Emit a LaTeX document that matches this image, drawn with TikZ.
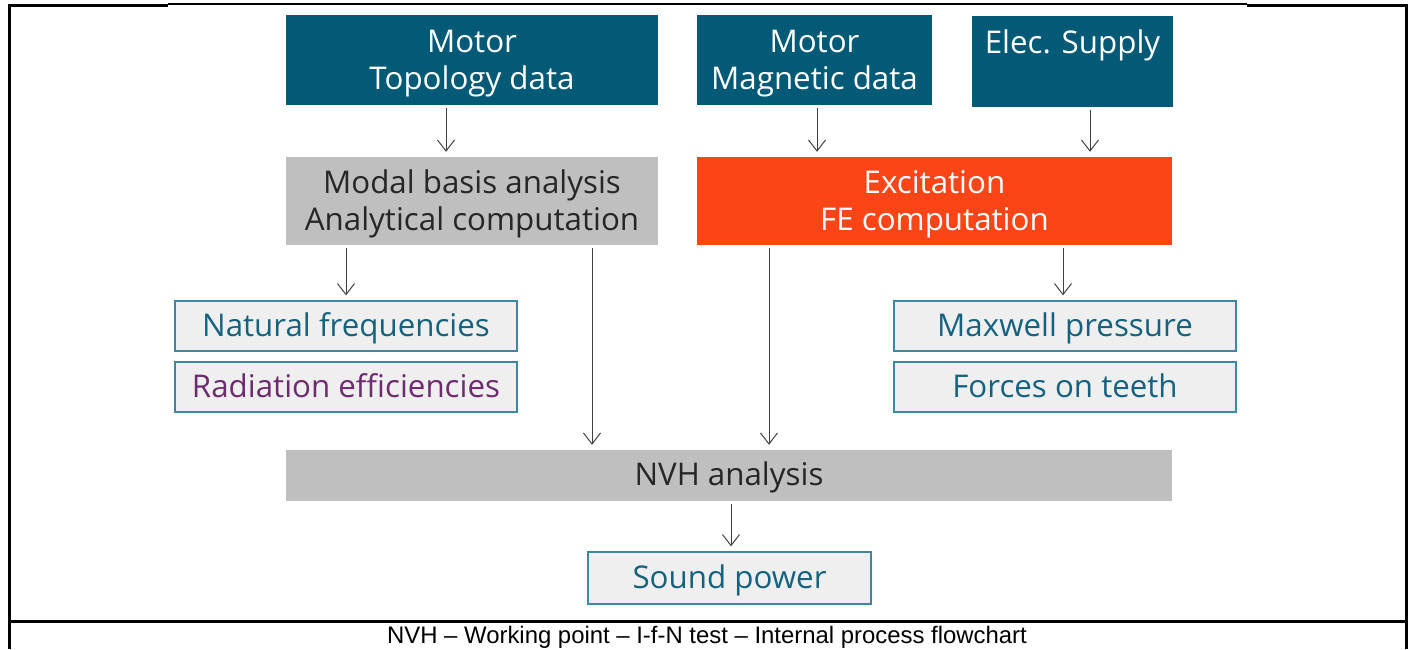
\documentclass[tikz,border=0pt]{standalone}
\usepackage{fontspec}
\setmainfont{Open Sans}
\newfontfamily\captionfont{Liberation Sans}
\usetikzlibrary{arrows.meta}

\definecolor{darkteal}{HTML}{025A77}
\definecolor{excitred}{HTML}{FC4516}
\definecolor{midgray}{HTML}{BFBFBF}
\definecolor{lightfill}{HTML}{EFEFEF}
\definecolor{boxedge}{HTML}{3F86A0}
\definecolor{tealtext}{HTML}{15627F}
\definecolor{purpletext}{HTML}{6E2B6F}

\tikzset{
  boxfont/.style={inner sep=0pt, align=center, font=\fontsize{31.3}{37}\selectfont},
  oneline/.style={text height=24pt, text depth=4pt},
  twoline/.style={text height=61pt, text depth=3pt},
  topline/.style={text height=24pt, text depth=40pt},
  databox/.style={boxfont, twoline, fill=darkteal, text=white},
  graybox/.style={boxfont, twoline, fill=midgray, text=black!85},
  resultbox/.style={boxfont, oneline, fill=lightfill, draw=boxedge, line width=1.3pt, text=tealtext, minimum width=342pt, minimum height=50pt},
  arr/.style={-{Straight Barb[length=11pt,width=17pt]}, line width=1pt, black!75, shorten <=3pt, shorten >=5pt}
}

\begin{document}
\begin{tikzpicture}[x=1pt,y=-1pt]
\useasboundingbox (0,0) rectangle (1411,649);

% frame
\draw[line width=3pt] (8,5) -- (168,5);
\draw[line width=1.3pt] (168,4) -- (1247,4);
\draw[line width=3pt] (1247,5) -- (1406,5);
\draw[line width=3pt] (9,4) -- (9,649);
\draw[line width=3pt] (1406,4) -- (1406,649);
\draw[line width=3pt] (8,621) -- (1406,621);
\node[font=\captionfont\fontsize{23.9}{26}\selectfont] (caption) at (707,637) {NVH – Working point – I-f-N test – Internal process flowchart};

% input data
\node[databox, minimum width=372pt, minimum height=90pt] (topo) at (472,60) {Motor\\Topology data};
\node[databox, minimum width=235pt, minimum height=90pt] (magn) at (814.5,60) {Motor\\Magnetic data};
\node[databox, topline, minimum width=201pt, minimum height=91pt] (elec) at (1072.5,61) {Elec. Supply};

% computations
\node[graybox, minimum width=372pt, minimum height=88pt] (modal) at (472,201) {Modal basis analysis\\Analytical computation};
\node[graybox, fill=excitred, text=white, minimum width=475pt, minimum height=88pt] (excit) at (934.5,201) {Excitation\\FE computation};

% results
\node[resultbox] (natfreq) at (346,326) {Natural frequencies};
\node[resultbox, text=purpletext] (radeff) at (346,387) {Radiation efficiencies};
\node[resultbox] (maxw) at (1065,326) {Maxwell pressure};
\node[resultbox] (forces) at (1065,387) {Forces on teeth};

\node[graybox, oneline, minimum width=886pt, minimum height=51pt] (nvh) at (729,475.5) {NVH analysis};
\node[resultbox, minimum width=283pt, minimum height=52pt] (sound) at (729.5,578) {Sound power};

% arrows
\draw[arr] ([xshift=-26pt]topo.south) -- ([xshift=-26pt]modal.north);
\draw[arr] ([xshift=2.5pt]magn.south) -- ([xshift=-117.5pt]excit.north);
\draw[arr] ([xshift=17.5pt]elec.south) -- ([xshift=155.5pt]excit.north);
\draw[arr] (natfreq.north |- modal.south) -- (natfreq.north);
\draw[arr] ([xshift=-2pt]maxw.north |- excit.south) -- ([xshift=-2pt]maxw.north);
\draw[arr] ([xshift=120pt]modal.south) -- ([xshift=-137pt]nvh.north);
\draw[arr] ([xshift=-165.5pt]excit.south) -- ([xshift=40pt]nvh.north);
\draw[arr] ([xshift=2pt]nvh.south) -- ([xshift=1.5pt]sound.north);

\end{tikzpicture}
\end{document}
